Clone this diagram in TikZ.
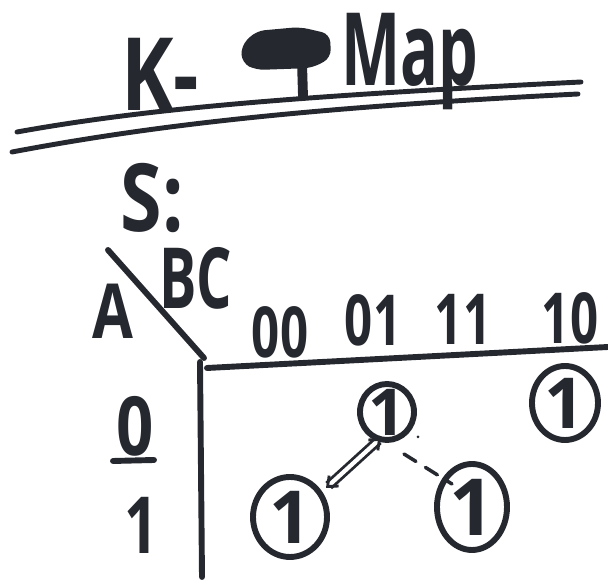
\documentclass[tikz,border=0pt]{standalone}
\usepackage{fontspec}
\setmainfont{Open Sans}
\usetikzlibrary{arrows.meta}
\definecolor{ink}{RGB}{38,40,48}
\tikzset{
  hw/.style={inner sep=0pt, text=ink},
  pen/.style={draw=ink, line width=4.2pt, line cap=round, line join=round},
}
\newcommand{\fs}[1]{\fontsize{#1}{#1}\selectfont\bfseries}
\begin{document}
\begin{tikzpicture}[x=0.025cm,y=-0.025cm]
\useasboundingbox[fill=white] (0,0) rectangle (608,582);
% title
\node[hw, font=\fs{72}] (k) at (160,74) {\scalebox{0.78}[1]{K-}};
\fill[ink, rounded corners=6pt] (241,46) -- (256,31) -- (300,27) -- (330,34) -- (331,58) -- (312,68) -- (256,70) -- (242,63) -- cycle;
\draw[pen, line width=7pt] (302,62) -- (303,96);
\node[hw, font=\fs{72}] (map) at (410,62) {\scalebox{0.62}[1]{Map}};
% double underline
\coordinate (u1a) at (17,132); \coordinate (u1b) at (581,82);
\coordinate (u2a) at (12,152); \coordinate (u2b) at (578,94);
\draw[pen, line width=3.5pt] (u1a) .. controls (150,108) and (300,96) .. (u1b);
\draw[pen, line width=3.5pt] (u2a) .. controls (150,126) and (300,108) .. (u2b);
% S:
\node[hw, font=\fs{67}] (s) at (152,198) {\scalebox{0.8}[1]{S:}};
% corner labels
\node[hw, font=\fs{54}] (a) at (113,311) {\scalebox{0.78}[1]{A}};
\node[hw, font=\fs{60}] (bc) at (196,278) {\scalebox{0.66}[1]{BC}};
\coordinate (d1) at (108,250);
\coordinate (corner) at (204,358);
\draw[pen] (d1) -- (corner);
% grid lines
\coordinate (hR) at (608,347);
\coordinate (vB) at (202,577);
\coordinate (hL) at (207,368);
\draw[pen] (hL) -- (hR);
\draw[pen] (200,362) -- (vB);
% column headers
\node[hw, font=\fs{50}] (c00) at (280,332) {\scalebox{0.7}[1]{00}};
\node[hw, font=\fs{50}] (c01) at (373,320) {\scalebox{0.7}[1]{01}};
\node[hw, font=\fs{50}] (c11) at (463,319) {\scalebox{0.7}[1]{11}};
\node[hw, font=\fs{50}] (c10) at (570,318) {\scalebox{0.7}[1]{10}};
% row labels
\node[hw, font=\fs{58}] (r0) at (135,426) {\scalebox{0.8}[1]{0}};
\draw[pen] (113,461) -- (154,460);
\node[hw, font=\fs{56}] (r1) at (141,525) {\scalebox{0.75}[1]{1}};
% ones
\node[hw, font=\fs{46}] (m1) at (387,412) {1};
\node[hw, font=\fs{50}] (m2) at (565,403) {1};
\node[hw, font=\fs{52}] (m4) at (290,517) {1};
\node[hw, font=\fs{56}] (m7) at (472,507) {1};
% circles
\draw[pen] (387,412) ellipse [x radius=27, y radius=28];
\draw[pen] (565,403) ellipse [x radius=33, y radius=37];
\draw[pen] (290,517) ellipse [x radius=37, y radius=40];
\draw[pen] (472,507) ellipse [x radius=35, y radius=43];
% connectors
\coordinate (g1a) at (326,488);
\coordinate (g1b) at (381,438);
\draw[ink, line width=2pt, double=white, double distance=3pt, {Straight Barb[length=6pt,width=10pt]}-{Straight Barb[length=6pt,width=10pt]}] (g1a) -- (g1b);
\coordinate (g2a) at (404,454);
\coordinate (g2b) at (452,484);
\draw[pen, line width=2.5pt, dash pattern=on 10pt off 8pt] (g2a) -- (g2b);
\fill[ink] (418,437) circle (1.5);
\end{tikzpicture}
\end{document}
